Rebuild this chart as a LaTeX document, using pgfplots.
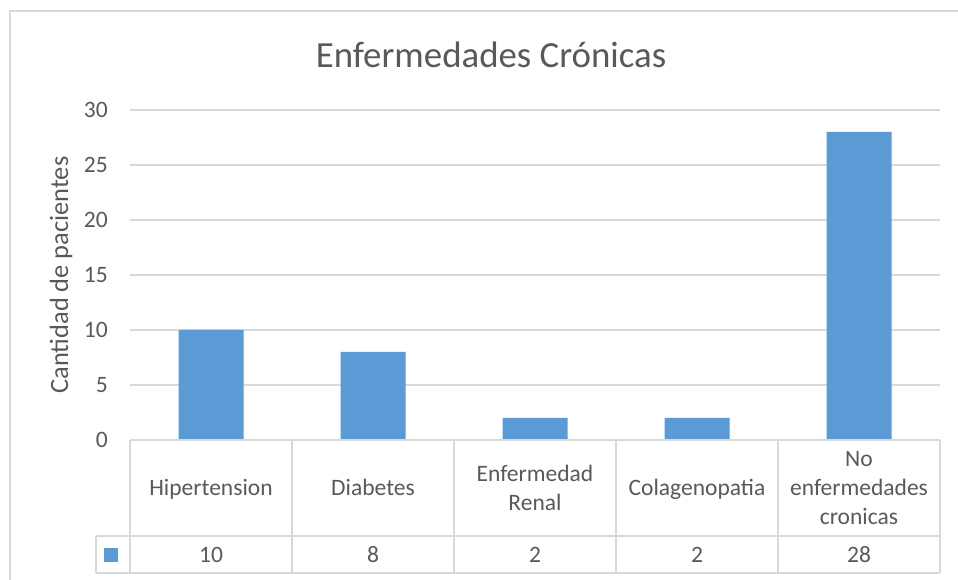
\documentclass[border=0pt]{standalone}
\usepackage{pgfplots}
\pgfplotsset{compat=1.18}
\usepackage{fontspec}
\setmainfont{Carlito}
\definecolor{txt}{HTML}{595959}
\definecolor{gridgray}{HTML}{D9D9D9}
\definecolor{barblue}{HTML}{5B9BD5}
\begin{document}
\begin{tikzpicture}[x=1bp,y=1bp]
\path[use as bounding box] (0,0) rectangle (958,580);
\fill[white] (0,0) rectangle (958,580);
% chart area border (cropped on right and bottom)
\draw[gridgray, line width=1.5bp] (10,-5) -- (10,569) -- (965,569);
% title
\node[anchor=base, text=txt, font=\fontsize{37}{44}\selectfont, inner sep=0pt] at (491,512) {Enfermedades Crónicas};
% y label
\node[rotate=90, text=txt, font=\fontsize{26.5}{32}\selectfont, inner sep=0pt] at (61,305) {Cantidad de pacientes};
\begin{axis}[
  at={(130bp,140bp)}, anchor=south west,
  scale only axis, width=810bp, height=330bp,
  xmin=-0.5, xmax=4.5, ymin=0, ymax=30,
  enlargelimits=false, clip=false,
  axis line style={draw=none},
  major tick length=0pt,
  ytick={0,5,10,15,20,25,30},
  ymajorgrids, grid style={gridgray, line width=1.5bp},
  /pgf/number format/assume math mode=true,
  yticklabel style={anchor=east, inner sep=0pt, xshift=-22bp, text=txt, font=\fontsize{23.6}{28}\selectfont},
  xtick={0,1,2,3,4},
  xticklabels={Hipertension, Diabetes, {Enfermedad\\Renal}, Colagenopatia, {No\\enfermedades\\cronicas}},
  xticklabel style={anchor=center, inner sep=0pt, yshift=-50bp, text width=155bp, align=center, text=txt, font=\fontsize{23.6}{29}\selectfont, execute at begin node=\strut, execute at end node=\strut},
]
\addplot[ybar, bar width=65bp, fill=barblue, draw=none] coordinates {(0,10) (1,8) (2,2) (3,2) (4,28)};
\node[text=txt, font=\fontsize{23.6}{28}\selectfont, inner sep=0pt] at (axis cs:0,0) [yshift=-115bp] {10};
\node[text=txt, font=\fontsize{23.6}{28}\selectfont, inner sep=0pt] at (axis cs:1,0) [yshift=-115bp] {8};
\node[text=txt, font=\fontsize{23.6}{28}\selectfont, inner sep=0pt] at (axis cs:2,0) [yshift=-115bp] {2};
\node[text=txt, font=\fontsize{23.6}{28}\selectfont, inner sep=0pt] at (axis cs:3,0) [yshift=-115bp] {2};
\node[text=txt, font=\fontsize{23.6}{28}\selectfont, inner sep=0pt] at (axis cs:4,0) [yshift=-115bp] {28};
\end{axis}
% data table lines
\begin{scope}[gridgray, line width=1.5bp]
\draw (130,140) -- (940,140);
\draw (96,44) -- (940,44);
\draw (96,7) -- (940,7);
\draw (96,7) -- (96,44);
\foreach \x in {130,292,454,616,778,940} \draw (\x,7) -- (\x,140);
\end{scope}
% legend key
\fill[barblue] (104,18) rectangle (118,32);
\end{tikzpicture}
\end{document}
